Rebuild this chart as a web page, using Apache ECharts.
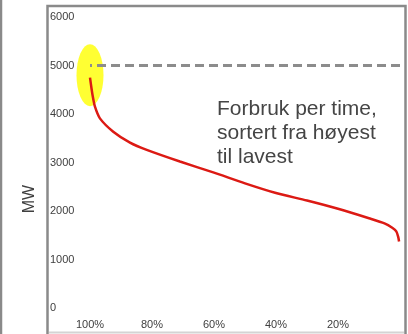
<!DOCTYPE html>
<html>
<head>
<meta charset="utf-8">
<script src="https://cdn.jsdelivr.net/npm/echarts@6/dist/echarts.min.js"></script>
<style>html,body{margin:0;padding:0;background:#fff;}#c{width:408px;height:334px;}</style>
</head>
<body>
<div id="c"></div>
<script>
// share of hours (%), sorted from highest to lowest
var pctHours = [100, 99.5, 99.1, 98.4, 96.8, 92.5, 87.1, 81.7, 71.0, 60.0, 50.0, 40.0, 30.0, 20.0, 10.0, 5.0, 2.5, 1.2, 0.6, 0.3];
// load (MW)
var loadMW =   [4750, 4520, 4360, 4150, 3910, 3635, 3410, 3260, 3020, 2790, 2570, 2370, 2215, 2045, 1850, 1745, 1655, 1580, 1470, 1370];
var capacityLine = [5000];
var highlight = [[100, 4800]];
var yTicks = [0, 1000, 2000, 3000, 4000, 5000, 6000];
var xTicks = [100, 80, 60, 40, 20];
var annotation = ['Forbruk per time,', 'sortert fra høyest', 'til lavest'];
var yTitle = 'MW';

var chart = echarts.init(document.getElementById('c'));
var lineData = pctHours.map(function (p, i) { return [p, loadMW[i]]; });
chart.setOption({
  animation: false,
  grid: { left: 90, right: 8, top: 17, bottom: 26 },
  xAxis: {
    type: 'value', min: 0, max: 100, interval: 20, inverse: true,
    axisLine: { show: false }, axisTick: { show: false }, splitLine: { show: false },
    axisLabel: {
      margin: 11, fontSize: 11, color: '#404040', fontFamily: 'Liberation Sans',
      showMinLabel: true, showMaxLabel: true,
      formatter: function (v) { return xTicks.indexOf(v) >= 0 ? v + '%' : ''; }
    }
  },
  yAxis: {
    type: 'value', min: yTicks[0], max: yTicks[yTicks.length - 1], interval: 1000,
    axisLine: { show: false }, axisTick: { show: false }, splitLine: { show: false },
    axisLabel: { align: 'left', margin: 40, fontSize: 11, color: '#404040', fontFamily: 'Liberation Sans',
      formatter: function (v) { return String(v); } }
  },
  series: [
    {
      type: 'scatter', data: highlight, symbol: 'circle', symbolSize: [27, 62],
      itemStyle: { color: '#ffff00' }, z: 1, silent: true
    },
    {
      type: 'line', data: lineData, smooth: 0.25, showSymbol: false, z: 3,
      lineStyle: { color: '#dc1a14', width: 2.5 },
      markLine: {
        silent: true, symbol: 'none', label: { show: false },
        lineStyle: { color: '#8c8c8c', width: 3, type: [9, 5] },
        data: capacityLine.map(function (v) { return { yAxis: v }; })
      }
    }
  ],
  graphic: [
    { type: 'rect', shape: { x: 47.5, y: 6, width: 358, height: 340 }, style: { fill: 'none', stroke: '#8a8a8a', lineWidth: 2.5 }, z: 100 },
    { type: 'line', shape: { x1: 1, y1: 0, x2: 1, y2: 334 }, style: { stroke: '#8a8a8a', lineWidth: 2.5 }, z: 100 },
    { type: 'line', shape: { x1: 49, y1: 332.5, x2: 404, y2: 332.5 }, style: { stroke: '#d4d4d4', lineWidth: 2 }, z: 100 },
    { type: 'text', x: 30, y: 199, rotation: Math.PI / 2,
      style: { text: yTitle, font: '16px "Liberation Sans"', fill: '#404040', align: 'center', verticalAlign: 'middle' } },
    { type: 'text', x: 217, y: 97,
      style: { text: annotation.join('\n'), font: '21px "Liberation Sans"', lineHeight: 24, fill: '#454545', align: 'left', verticalAlign: 'top' } }
  ]
});
</script>
</body>
</html>
